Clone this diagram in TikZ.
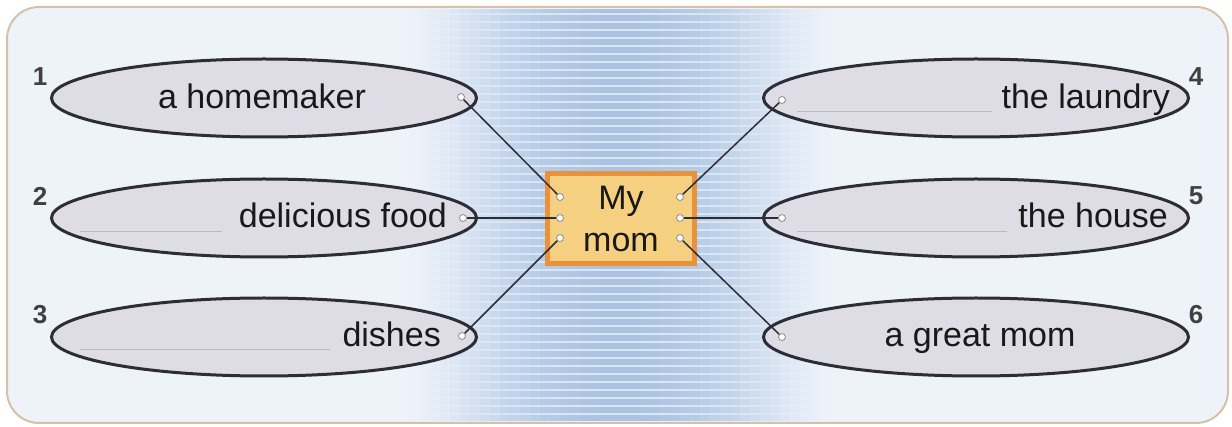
\documentclass[tikz,border=0pt]{standalone}
\usepackage{fontspec}
\setmainfont{Liberation Sans}
\usetikzlibrary{shapes.geometric, positioning}
\definecolor{cFrame}{RGB}{214,192,168}
\definecolor{cPaper}{RGB}{238,243,250}
\definecolor{cBand}{RGB}{170,195,226}
\definecolor{cOval}{RGB}{222,221,229}
\definecolor{cBoxFill}{RGB}{245,208,128}
\definecolor{cBoxDraw}{RGB}{234,146,58}
\definecolor{cLine}{RGB}{45,45,55}
\definecolor{cBlank}{RGB}{185,185,192}

\begin{document}
\begin{tikzpicture}[x=1pt, y=-1pt,
    oval/.style={ellipse, draw=cLine, line width=3pt, fill=cOval, minimum width=425pt, minimum height=78pt, inner sep=0pt},
    word/.style={font=\fontsize{34}{42}\selectfont, inner sep=0pt, text=black!90},
    num/.style={font=\fontsize{26}{28}\selectfont\bfseries, text=black!75, inner sep=0pt},
    pin/.style={circle, draw=black!45, fill=white, line width=0.8pt, minimum size=7pt, inner sep=0pt},
    con/.style={draw=cLine, line width=1.5pt},
    blank/.style={draw=cBlank, line width=1pt}]

\useasboundingbox (0,0) rectangle (1232,427);
% frame and striped band
\path[fill=cPaper, rounded corners=32pt] (7,7) rectangle (1228,423);
\foreach \k in {0,...,41} {
    \pgfmathsetmacro\p{100*sin(180*(\k+0.5)/42)^1.2}
    \pgfmathsetmacro\q{0.6*\p}
    \colorlet{cStrip}{cBand!\p!cPaper}
    \fill[cStrip] (410+\k*10,9) rectangle (420.6+\k*10,421);
    \draw[white!\q!cStrip, line width=2.2pt]
        \foreach \y in {14,22,...,414} {(410+\k*10,\y) -- (420.6+\k*10,\y)};
}
\draw[cFrame, line width=2pt, rounded corners=32pt] (7,7) rectangle (1228,423);

% ovals
\node[oval] (o1) at (264,98)  {};
\node[oval] (o2) at (264,218) {};
\node[oval] (o3) at (264,337) {};
\node[oval] (o4) at (976,98)  {};
\node[oval] (o5) at (976,218) {};
\node[oval] (o6) at (976,337) {};

\draw[blank] (80,232) -- (222,232);
\draw[blank] (80,350) -- (330,350);
\draw[blank] (797,112) -- (992,112);
\draw[blank] (797,232) -- (1007,232);

\node[word, anchor=base]      (t1) at (262,109)  {a homemaker};
\node[word, anchor=base east] (t2) at (447,228)  {delicious food};
\node[word, anchor=base east] (t3) at (441,347)  {dishes};
\node[word, anchor=base east] (t4) at (1170,109) {the laundry};
\node[word, anchor=base east] (t5) at (1168,228) {the house};
\node[word, anchor=base]      (t6) at (980,347)  {a great mom};

\node[num] (n1) at (40,77)   {1};
\node[num] (n2) at (40,196)  {2};
\node[num] (n3) at (40,315)  {3};
\node[num] (n4) at (1196,77) {4};
\node[num] (n5) at (1196,196){5};
\node[num] (n6) at (1196,315){6};

% centre box
\node[word, draw=cBoxDraw, line width=5pt, fill=cBoxFill, minimum width=147pt,
      minimum height=90pt, align=center] (mom) at (621,219) {My\\mom};

\node[pin] (d1) at (461,97)  {};
\node[pin] (d2) at (463,218) {};
\node[pin] (d3) at (462,336) {};
\node[pin] (d4) at (782,100) {};
\node[pin] (d5) at (782,218) {};
\node[pin] (d6) at (782,337) {};
\node[pin] (b1) at (560,197) {};
\node[pin] (b2) at (560,218) {};
\node[pin] (b3) at (560,238) {};
\node[pin] (b4) at (680,197) {};
\node[pin] (b5) at (680,218) {};
\node[pin] (b6) at (680,238) {};

\foreach \i in {1,...,6}
    \draw[con] (d\i) -- (b\i);
\end{tikzpicture}
\end{document}
